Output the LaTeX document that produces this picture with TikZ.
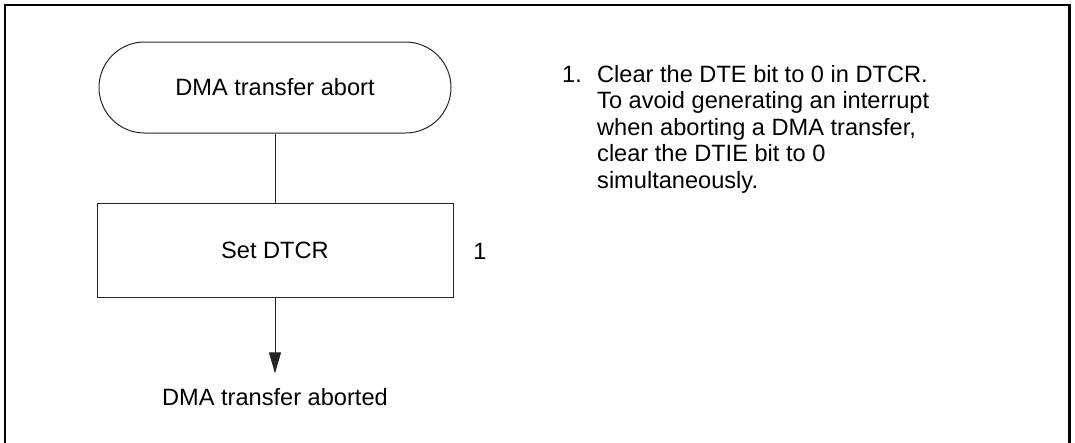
\documentclass[tikz,border=0pt]{standalone}
\usepackage{fontspec}
\setmainfont{Liberation Sans}
\usetikzlibrary{arrows.meta}
\begin{document}
\begin{tikzpicture}[x=1pt,y=-1pt,
  txt/.style={font=\fontsize{23.6}{26.5}\selectfont, inner sep=0pt},
  thin line/.style={line width=1pt, draw=black!85},
  terminal/.style={thin line, rounded corners=45.5pt, minimum width=352pt, minimum height=91pt, txt},
  process/.style={thin line, minimum width=356pt, minimum height=94pt, txt},
  flow/.style={thin line},
  arr/.style={thin line, -{Triangle[length=21pt,width=12pt]}}]
\useasboundingbox (0,0) rectangle (1075,442);
\draw[line width=2.2pt] (5,5) rectangle (1069.5,460);
\node[terminal] (start) at (275,87.5) {DMA transfer abort};
\node[process] (set) at (275,250) {Set DTCR};
\node[txt, anchor=base] (ref) at (480,259) {1};
\node[txt, anchor=base, outer ysep=14.5pt] (end) at (275,405) {DMA transfer aborted};
\draw[flow] (start.south) -- (set.north);
\draw[arr] (set.south) -- (end.north);
\node[txt, anchor=base west] (num) at (562,82) {1.};
\node[txt, anchor=base west] (l1) at (597,82) {Clear the DTE bit to 0 in DTCR.};
\node[txt, anchor=base west] (l2) at (597,108.5) {To avoid generating an interrupt};
\node[txt, anchor=base west] (l3) at (597,135) {when aborting a DMA transfer,};
\node[txt, anchor=base west] (l4) at (597,161.5) {clear the DTIE bit to 0};
\node[txt, anchor=base west] (l5) at (597,188) {simultaneously.};
\end{tikzpicture}
\end{document}
